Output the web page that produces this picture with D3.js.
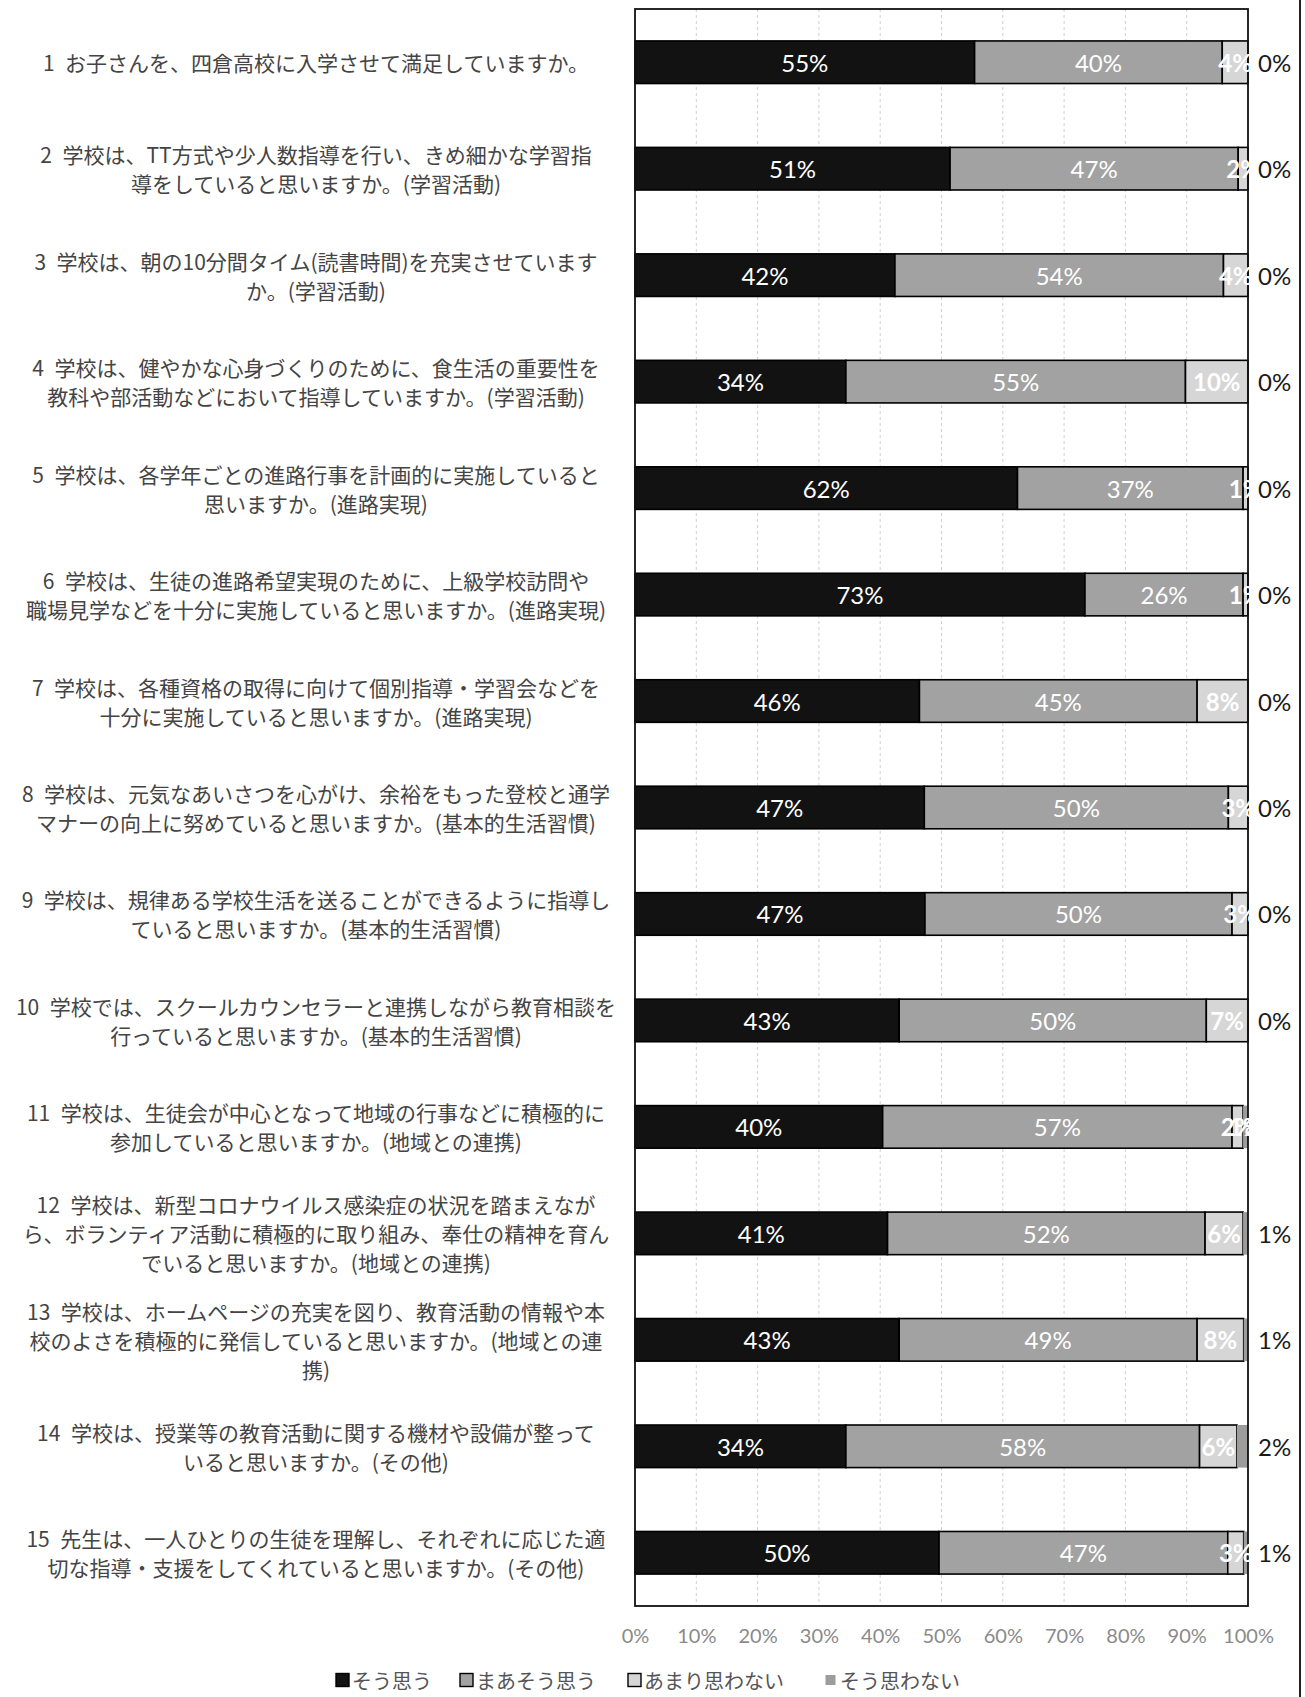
<!DOCTYPE html>
<html><head><meta charset="utf-8">
<script src="https://cdn.jsdelivr.net/npm/d3@7"></script>
<style>
html,body{margin:0;padding:0;background:#fff;}
svg{display:block;}
</style>
</head><body>
<svg id="chart" width="1305" height="1697"></svg>
<script>
const categories = [
  ["1\u2002お子さんを、四倉高校に入学させて満足していますか。"],
  ["2\u2002学校は、TT方式や少人数指導を行い、きめ細かな学習指", "導をしていると思いますか。(学習活動)"],
  ["3\u2002学校は、朝の10分間タイム(読書時間)を充実させています", "か。(学習活動)"],
  ["4\u2002学校は、健やかな心身づくりのために、食生活の重要性を", "教科や部活動などにおいて指導していますか。(学習活動)"],
  ["5\u2002学校は、各学年ごとの進路行事を計画的に実施していると", "思いますか。(進路実現)"],
  ["6\u2002学校は、生徒の進路希望実現のために、上級学校訪問や", "職場見学などを十分に実施していると思いますか。(進路実現)"],
  ["7\u2002学校は、各種資格の取得に向けて個別指導・学習会などを", "十分に実施していると思いますか。(進路実現)"],
  ["8\u2002学校は、元気なあいさつを心がけ、余裕をもった登校と通学", "マナーの向上に努めていると思いますか。(基本的生活習慣)"],
  ["9\u2002学校は、規律ある学校生活を送ることができるように指導し", "ていると思いますか。(基本的生活習慣)"],
  ["10\u2002学校では、スクールカウンセラーと連携しながら教育相談を", "行っていると思いますか。(基本的生活習慣)"],
  ["11\u2002学校は、生徒会が中心となって地域の行事などに積極的に", "参加していると思いますか。(地域との連携)"],
  ["12\u2002学校は、新型コロナウイルス感染症の状況を踏まえなが", "ら、ボランティア活動に積極的に取り組み、奉仕の精神を育ん", "でいると思いますか。(地域との連携)"],
  ["13\u2002学校は、ホームページの充実を図り、教育活動の情報や本", "校のよさを積極的に発信していると思いますか。(地域との連", "携)"],
  ["14\u2002学校は、授業等の教育活動に関する機材や設備が整って", "いると思いますか。(その他)"],
  ["15\u2002先生は、一人ひとりの生徒を理解し、それぞれに応じた適", "切な指導・支援をしてくれていると思いますか。(その他)"]
];
const seriesNames = ["そう思う", "まあそう思う", "あまり思わない", "そう思わない"];
const agree            = [55.4, 51.4, 42.4, 34.4, 62.4, 73.4, 46.4, 47.2, 47.3, 43.1, 40.4, 41.2, 43.1, 34.4, 49.6];
const somewhatAgree    = [40.4, 47.0, 53.6, 55.4, 36.8, 25.8, 45.3, 49.6, 50.1, 50.1, 57.0, 51.8, 48.6, 57.7, 47.1];
const somewhatDisagree = [4.2, 1.6, 4.0, 10.2, 0.8, 0.8, 8.3, 3.2, 2.6, 6.8, 1.8, 6.2, 7.6, 6.1, 2.6];
const disagree         = [0, 0, 0, 0, 0, 0, 0, 0, 0, 0, 0.8, 0.8, 0.7, 1.8, 0.7];
const disagreeLabelOutside = [true,true,true,true,true,true,true,true,true,true,false,true,true,true,true];
const tickValues = [0, 10, 20, 30, 40, 50, 60, 70, 80, 90, 100];

const svg = d3.select("#chart");
const W = 1305, H = 1697;
const plot = {x0: 635, x1: 1248, y0: 9, y1: 1606};
const colors = ["#121212", "#a2a2a2", "#d6d6d6", "#9c9c9c"];
const cjk = "'Noto Sans CJK JP', 'Noto Sans', sans-serif";
const latin = "Lato, 'Open Sans', sans-serif";

const x = d3.scaleLinear().domain([0, 100]).range([plot.x0, plot.x1]);
const y = d3.scaleBand().domain(d3.range(categories.length)).range([plot.y0, plot.y1]).paddingInner(0.6).paddingOuter(0.3);

// gridlines
svg.append("g").selectAll("line").data(tickValues.slice(1, -1)).join("line")
  .attr("x1", d => x(d)).attr("x2", d => x(d))
  .attr("y1", plot.y0).attr("y2", plot.y1)
  .attr("stroke", "#cfcfcf").attr("stroke-width", 1).attr("stroke-dasharray", "3,3");

// stack
const rows = categories.map((c, i) => ({i, v: [agree[i], somewhatAgree[i], somewhatDisagree[i], disagree[i]]}));
const stack = d3.stack().keys([0, 1, 2, 3]).value((d, k) => d.v[k]);
const layers = stack(rows);

const gBars = svg.append("g");
layers.forEach((layer, k) => {
  gBars.append("g").selectAll("rect").data(layer.filter(d => d[1] - d[0] > 0)).join("rect")
    .attr("x", d => x(d[0])).attr("width", d => x(d[1]) - x(d[0]))
    .attr("y", d => y(d.data.i)).attr("height", y.bandwidth())
    .attr("fill", colors[k])
    .attr("stroke", k < 3 ? "#000" : "none").attr("stroke-width", 1.6);
});

// frame
svg.append("rect").attr("x", plot.x0).attr("y", plot.y0)
  .attr("width", plot.x1 - plot.x0).attr("height", plot.y1 - plot.y0)
  .attr("fill", "none").attr("stroke", "#111").attr("stroke-width", 1.8);

// labels
const fmt = v => d3.format(".0f")(v) + "%";
layers.forEach((layer, k) => {
  const g = svg.append("g");
  layer.forEach(d => {
    const i = d.data.i;
    const v = d.data.v[k];
    const cy = y(i) + y.bandwidth() / 2;
    if (k < 3 || !disagreeLabelOutside[i]) {
      g.append("text")
        .attr("x", (x(d[0]) + x(d[1])) / 2).attr("y", cy)
        .attr("text-anchor", "middle").attr("dominant-baseline", "central")
        .attr("font-family", latin).attr("font-size", 24)
        .attr("font-weight", k === 2 || k === 3 ? "bold" : "normal")
        .attr("fill", "#fff").text(fmt(v));
    } else {
      g.append("text")
        .attr("x", plot.x1 + 10).attr("y", cy)
        .attr("text-anchor", "start").attr("dominant-baseline", "central")
        .attr("font-family", latin).attr("font-size", 24)
        .attr("fill", "#1a1a1a").text(fmt(v));
    }
  });
});

// x axis
const xAxis = d3.axisBottom(x).tickValues(tickValues).tickSize(0).tickFormat(d => d + "%");
const ax = svg.append("g").attr("transform", `translate(0,${plot.y1 + 20})`).call(xAxis);
ax.select(".domain").remove();
ax.selectAll("text").attr("font-family", latin).attr("font-size", 20).attr("fill", "#8a8a8a");

// category labels
const labelCx = 316, lineH = 29;
const gCat = svg.append("g");
categories.forEach((lines, i) => {
  const cy = y(i) + y.bandwidth() / 2;
  const t = gCat.append("text")
    .attr("text-anchor", "middle")
    .attr("font-family", cjk).attr("font-size", 21).attr("fill", "#444");
  lines.forEach((ln, j) => {
    t.append("tspan").attr("x", labelCx)
      .attr("y", cy + (j - (lines.length - 1) / 2) * lineH)
      .attr("dominant-baseline", "central").text(ln);
  });
});

// legend
const legendX = [336, 460, 628, 824];
const legendY = 1680;
const gLeg = svg.append("g");
seriesNames.forEach((name, k) => {
  const sz = k < 3 ? 13 : 10;
  gLeg.append("rect").attr("x", legendX[k] + (13 - sz) / 2).attr("y", legendY - sz / 2)
    .attr("width", sz).attr("height", sz).attr("fill", colors[k])
    .attr("stroke", k < 3 ? "#000" : "none").attr("stroke-width", 1.4);
  gLeg.append("text").attr("x", legendX[k] + 16).attr("y", legendY)
    .attr("dominant-baseline", "central")
    .attr("font-family", cjk).attr("font-size", 20).attr("fill", "#555").text(name);
});

// page edge line from the scan
svg.append("line").attr("x1", 1300).attr("x2", 1300).attr("y1", 0).attr("y2", H)
  .attr("stroke", "#222").attr("stroke-width", 2);
</script>
</body></html>
